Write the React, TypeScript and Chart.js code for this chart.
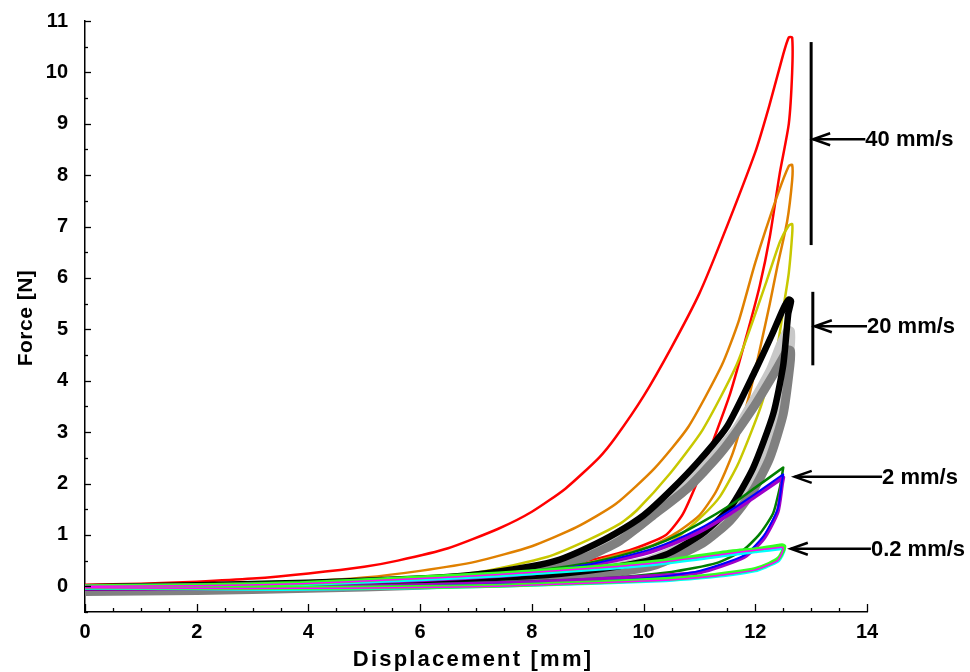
import React, { useEffect, useRef } from "react";
import { Chart, registerables } from "chart.js";

Chart.register(...registerables);

type P = [number, number];

// ---- data (displacement mm, force N) ----
const RED_LOAD: P[] = [[0,0.03],[1,0.05],[2,0.09],[3,0.15],[4,0.25],[5,0.38],[5.6,0.5],[6.5,0.74],[7.4,1.12],[8,1.45],[8.6,1.9],[9.2,2.5],[9.5,2.9],[10,3.7],[10.5,4.65],[11,5.7],[11.4,6.75],[12,8.45],[12.25,9.35],[12.5,10.35],[12.6,10.68]];
const RED_UNLOAD: P[] = [[12.66,10.68],[12.66,10.0],[12.6,9.0],[12.44,8.05],[12.26,6.8],[12.08,5.85],[11.85,4.9],[11.55,3.75],[11.2,2.7],[10.95,2.0],[10.7,1.4],[10.4,1.0],[9.8,0.72],[9.0,0.5],[8,0.33],[7,0.22],[6,0.15],[4,0.07],[2,0.03],[0,0.02]];
const ORANGE_LOAD: P[] = [[0,0.0],[2,0.04],[4,0.1],[5,0.17],[6,0.3],[7,0.48],[8,0.78],[8.8,1.15],[9.5,1.6],[10.2,2.3],[10.8,3.1],[11.4,4.3],[11.7,5.15],[12,6.3],[12.4,7.62],[12.6,8.18]];
const ORANGE_UNLOAD: P[] = [[12.66,8.2],[12.66,7.9],[12.57,7.1],[12.39,6.2],[12.26,5.5],[12.1,4.7],[11.9,3.75],[11.6,2.6],[11.3,1.85],[11.0,1.38],[10.6,1.05],[10.17,0.8],[9.5,0.6],[9,0.45],[8,0.3],[7,0.2],[6,0.12],[4,0.05],[2,0.02],[0,0.0]];
const YELLOW_LOAD: P[] = [[0,0.0],[2,0.03],[4,0.08],[6,0.18],[7.07,0.28],[8.27,0.57],[9,0.9],[9.58,1.22],[9.88,1.48],[10.47,2.19],[11.06,3.05],[11.67,4.32],[12.2,5.93],[12.44,6.7],[12.6,7.02]];
const YELLOW_UNLOAD: P[] = [[12.66,7.05],[12.66,6.84],[12.6,6.1],[12.53,5.6],[12.39,4.63],[12.1,3.5],[11.7,2.4],[11.37,1.75],[11.06,1.38],[10.6,0.95],[10.17,0.68],[9,0.4],[8,0.25],[6,0.12],[4,0.05],[2,0.02],[0,0.0]];
const BLACK_LOAD: P[] = [[0,-0.02],[2,0.02],[4,0.07],[6,0.15],[7,0.23],[8,0.39],[8.5,0.52],[9,0.75],[9.5,1.03],[10,1.38],[10.5,1.88],[11,2.45],[11.5,3.12],[12,4.2],[12.3,4.9],[12.5,5.4],[12.6,5.58]];
const BLACK_UNLOAD: P[] = [[12.64,5.55],[12.59,5.3],[12.5,4.3],[12.32,3.35],[11.96,2.3],[11.55,1.53],[11.06,1.03],[10.47,0.65],[10,0.48],[9,0.3],[8,0.2],[6,0.1],[4,0.04],[2,0.0],[0,-0.03]];
const LIGHTGRAY_LOAD: P[] = [[0,-0.06],[2,-0.02],[4,0.04],[6,0.12],[7,0.18],[8,0.32],[9,0.65],[9.5,0.9],[9.9,1.15],[10.5,1.73],[11.06,2.31],[11.67,3.08],[12.26,4.19],[12.45,4.7],[12.58,4.98]];
const LIGHTGRAY_UNLOAD: P[] = [[12.63,4.96],[12.62,4.6],[12.5,3.8],[12.3,3.0],[12.0,2.2],[11.6,1.55],[11.1,1.05],[10.5,0.68],[10,0.48],[9,0.3],[8,0.2],[6,0.08],[4,0.02],[2,-0.04],[0,-0.06]];
const GRAY_LOAD: P[] = [[0,-0.08],[2,-0.06],[4,-0.01],[6,0.08],[7,0.14],[8,0.27],[9,0.58],[9.58,0.89],[10.17,1.38],[10.78,1.9],[11.37,2.58],[11.96,3.47],[12.39,4.24],[12.58,4.6]];
const GRAY_UNLOAD: P[] = [[12.63,4.58],[12.62,4.3],[12.5,3.35],[12.26,2.5],[11.96,1.86],[11.55,1.28],[11.06,0.84],[10.17,0.4],[9,0.2],[8,0.12],[6,0.02],[4,-0.04],[2,-0.08],[0,-0.1]];
const DKGREEN_LOAD: P[] = [[0,0.02],[2,0.04],[4,0.09],[6,0.16],[8,0.3],[9,0.45],[9.8,0.66],[10.4,0.89],[11,1.22],[11.6,1.61],[12,1.92],[12.5,2.31]];
const DKGREEN_UNLOAD: P[] = [[12.5,2.31],[12.47,2.1],[12.44,1.92],[12.32,1.42],[12.08,1.02],[11.78,0.7],[11.3,0.45],[10.5,0.28],[9.2,0.15],[8,0.1],[6,0.04],[4,0.0],[2,-0.02],[0,-0.03]];
const BLUE_LOAD: P[] = [[0,0.0],[2,0.02],[4,0.06],[6,0.13],[8,0.27],[9,0.42],[10,0.68],[10.5,0.87],[11,1.12],[11.5,1.44],[12,1.8],[12.5,2.18]];
const BLUE_UNLOAD: P[] = [[12.5,2.18],[12.48,2.05],[12.4,1.5],[12.15,0.98],[11.8,0.6],[11.0,0.3],[10,0.15],[9,0.08],[8,0.05],[6,0.0],[4,-0.03],[2,-0.04],[0,-0.05]];
const PURPLE_LOAD: P[] = [[0,0.0],[2,0.02],[4,0.05],[6,0.12],[8,0.25],[9,0.4],[10,0.63],[10.5,0.82],[11,1.06],[11.5,1.38],[12,1.75],[12.5,2.12]];
const PURPLE_UNLOAD: P[] = [[12.5,2.12],[12.48,2.0],[12.4,1.45],[12.15,0.93],[11.8,0.57],[11.0,0.27],[10.2,0.2],[9.6,0.16],[8,0.08],[6,0.02],[4,-0.02],[2,-0.04],[0,-0.05]];
const LIME_LOAD: P[] = [[0,0.0],[2,0.02],[3.85,0.06],[5.6,0.15],[7.4,0.25],[9.2,0.38],[10.4,0.5],[11.6,0.68],[12.0,0.72],[12.48,0.8]];
const LIME_UNLOAD: P[] = [[12.52,0.78],[12.5,0.7],[12.42,0.55],[12.25,0.44],[12.0,0.34],[11.6,0.27],[11.0,0.19],[10.4,0.14],[9.2,0.08],[7.4,0.01],[5.5,-0.02],[3.8,-0.03],[2,-0.03],[0,-0.02]];
const CYAN_LOAD: P[] = [[0,-0.03],[2,-0.01],[3.85,0.03],[5.6,0.11],[7.4,0.2],[9.2,0.33],[10.4,0.45],[11.6,0.62],[12.0,0.67],[12.48,0.73]];
const CYAN_UNLOAD: P[] = [[12.52,0.72],[12.48,0.6],[12.4,0.48],[12.2,0.38],[12.0,0.3],[11.6,0.23],[11.0,0.16],[10.4,0.11],[9.2,0.06],[7.4,0.0],[5.5,-0.04],[3.5,-0.06],[2,-0.05],[0,-0.04]];
const MAGENTA_LOAD: P[] = [[0,0.0],[2,0.01],[3.85,0.05],[5.6,0.13],[7.4,0.23],[9.2,0.36],[10.4,0.48],[11.6,0.65],[12.0,0.7],[12.48,0.76]];
const MAGENTA_UNLOAD: P[] = [[12.5,0.74],[12.47,0.63],[12.4,0.5],[12.2,0.4],[12.0,0.32],[11.6,0.25],[11.0,0.17],[10.4,0.12],[9.2,0.07],[7.4,0.0],[5.5,-0.03],[3.8,-0.04],[2,-0.04],[0,-0.03]];

// axis ranges and ticks
const X_MIN = 0, X_MAX = 14, X_STEP = 2, X_MINOR = 0.5;
const Y_MIN = -0.5, Y_MAX = 11, Y_STEP = 1, Y_MINOR = 0.5;
const X_TITLE = "Displacement [mm]";
const Y_TITLE = "Force [N]";

// annotation groups
const ANN_LABELS = ["40 mm/s", "20 mm/s", "2 mm/s", "0.2 mm/s"];
const ANN_BAR_X = [13.0, 13.03, null, null];
const ANN_BAR_Y0 = [10.59, 5.73, null, null];
const ANN_BAR_Y1 = [6.64, 4.3, null, null];
const ANN_ARROW_Y = [8.7, 5.06, 2.13, 0.73];
const ANN_ARROW_TIP = [13.0, 13.03, 12.67, 12.6];
const ANN_TEXT_X = [13.97, 14.0, 14.27, 14.07];

const FONT = '"Liberation Sans", Arial, Helvetica, sans-serif';

const SERIES = [
  { load: MAGENTA_LOAD, unload: MAGENTA_UNLOAD, color: "#FF00FF", w: 1.5 },
  { load: LIME_LOAD, unload: LIME_UNLOAD, color: "#33FF22", w: 4 },
  { load: CYAN_LOAD, unload: CYAN_UNLOAD, color: "#00FFFF", w: 3 },
  { load: BLUE_LOAD, unload: BLUE_UNLOAD, color: "#0000FF", w: 2 },
  { load: PURPLE_LOAD, unload: PURPLE_UNLOAD, color: "#A000C8", w: 4 },
  { load: DKGREEN_LOAD, unload: DKGREEN_UNLOAD, color: "#007F00", w: 2.5 },
  { load: BLACK_LOAD, unload: BLACK_UNLOAD, color: "#000000", w: 6.5 },
  { load: GRAY_LOAD, unload: GRAY_UNLOAD, color: "#808080", w: 9 },
  { load: LIGHTGRAY_LOAD, unload: LIGHTGRAY_UNLOAD, color: "#C8C8C8", w: 9 },
  { load: YELLOW_LOAD, unload: YELLOW_UNLOAD, color: "#C8C800", w: 2.5 },
  { load: ORANGE_LOAD, unload: ORANGE_UNLOAD, color: "#E08000", w: 2.5 },
  { load: RED_LOAD, unload: RED_UNLOAD, color: "#FF0000", w: 2.5 },
];

const decorPlugin = {
  id: "decor",
  afterDraw(chart: any) {
    const { ctx, chartArea } = chart;
    const xs = chart.scales.x;
    const ys = chart.scales.y;
    ctx.save();
    ctx.strokeStyle = "#000";
    ctx.lineWidth = 1.3;
    // inward tick marks
    for (let v = X_MIN; v <= X_MAX + 1e-9; v += X_MINOR) {
      const px = Math.round(xs.getPixelForValue(v)) + 0.5;
      const major = Math.abs(v / X_STEP - Math.round(v / X_STEP)) < 1e-6;
      const len = major ? 8 : 4;
      ctx.beginPath();
      ctx.moveTo(px, chartArea.bottom);
      ctx.lineTo(px, chartArea.bottom - len);
      ctx.stroke();
    }
    for (let v = Y_MIN; v <= Y_MAX + 1e-9; v += Y_MINOR) {
      const py = Math.round(ys.getPixelForValue(v)) + 0.5;
      const major = Math.abs(v / Y_STEP - Math.round(v / Y_STEP)) < 1e-6;
      const len = major ? 6 : 3;
      ctx.beginPath();
      ctx.moveTo(chartArea.left, py);
      ctx.lineTo(chartArea.left + len, py);
      ctx.stroke();
    }
    // annotations
    ctx.fillStyle = "#000";
    ctx.font = `bold 22px ${FONT}`;
    ctx.textBaseline = "middle";
    ctx.textAlign = "left";
    for (let i = 0; i < ANN_LABELS.length; i++) {
      const bx = ANN_BAR_X[i];
      if (bx !== null) {
        ctx.lineWidth = 3;
        ctx.beginPath();
        ctx.moveTo(xs.getPixelForValue(bx), ys.getPixelForValue(ANN_BAR_Y0[i] as number));
        ctx.lineTo(xs.getPixelForValue(bx), ys.getPixelForValue(ANN_BAR_Y1[i] as number));
        ctx.stroke();
      }
      const ay = ys.getPixelForValue(ANN_ARROW_Y[i]);
      const tip = xs.getPixelForValue(ANN_ARROW_TIP[i]) + 2;
      const tx = xs.getPixelForValue(ANN_TEXT_X[i]);
      ctx.lineWidth = 2.5;
      ctx.beginPath();
      ctx.moveTo(tip, ay);
      ctx.lineTo(tx, ay);
      ctx.stroke();
      ctx.beginPath();
      ctx.moveTo(tip + 17, ay - 6);
      ctx.lineTo(tip, ay);
      ctx.lineTo(tip + 17, ay + 6);
      ctx.stroke();
      ctx.fillText(ANN_LABELS[i], tx, ay + 1);
    }
    // axis titles
    ctx.font = `bold 22px ${FONT}`;
    (ctx as any).letterSpacing = "2.2px";
    ctx.textAlign = "center";
    ctx.textBaseline = "middle";
    ctx.fillText(X_TITLE, 473, 660);
    (ctx as any).letterSpacing = "0.5px";
    ctx.font = `bold 21px ${FONT}`;
    ctx.translate(26, 318);
    ctx.rotate(-Math.PI / 2);
    ctx.fillText(Y_TITLE, 0, 0);
    ctx.restore();
  },
};

export default function App() {
  const ref = useRef<HTMLCanvasElement | null>(null);
  useEffect(() => {
    document.body.style.margin = "0";
    const canvas = ref.current;
    if (!canvas) return;
    const datasets = SERIES.map((s) => ({
      data: [...s.load, ...s.unload].map(([x, y]) => ({ x, y })),
      borderColor: s.color,
      backgroundColor: s.color,
      borderWidth: s.w,
      pointRadius: 0,
      fill: false,
      tension: 0.2,
      borderJoinStyle: "round" as const,
      borderCapStyle: "round" as const,
    }));
    const chart = new Chart(canvas, {
      type: "line",
      data: { datasets },
      options: {
        animation: false,
        responsive: false,
        devicePixelRatio: 1,
        layout: { padding: { left: 0, top: 18, right: 103, bottom: 0 } },
        plugins: { legend: { display: false }, tooltip: { enabled: false } },
        scales: {
          x: {
            type: "linear",
            min: X_MIN,
            max: X_MAX,
            grid: { display: false },
            border: { display: true, color: "#000", width: 1.5 },
            ticks: { stepSize: X_STEP, color: "#000", font: { family: FONT, size: 20, weight: "bold" }, padding: 0, maxRotation: 0 },
            afterFit: (s: any) => { s.height = 60; },
          },
          y: {
            type: "linear",
            min: Y_MIN,
            max: Y_MAX,
            grid: { display: false },
            border: { display: true, color: "#000", width: 1.5 },
            ticks: { stepSize: Y_STEP, color: "#000", font: { family: FONT, size: 20, weight: "bold" }, padding: 9 },
            afterBuildTicks: (s: any) => { s.ticks = s.ticks.filter((t: any) => Number.isInteger(t.value)); },
            afterFit: (s: any) => { s.width = 85; },
          },
        },
      },
      plugins: [decorPlugin],
    });
    return () => chart.destroy();
  }, []);
  return (
    <div style={{ position: "fixed", left: 0, top: 0, width: 970, height: 672, background: "#fff" }}>
      <canvas ref={ref} width={970} height={672} style={{ width: 970, height: 672, display: "block" }} />
    </div>
  );
}
